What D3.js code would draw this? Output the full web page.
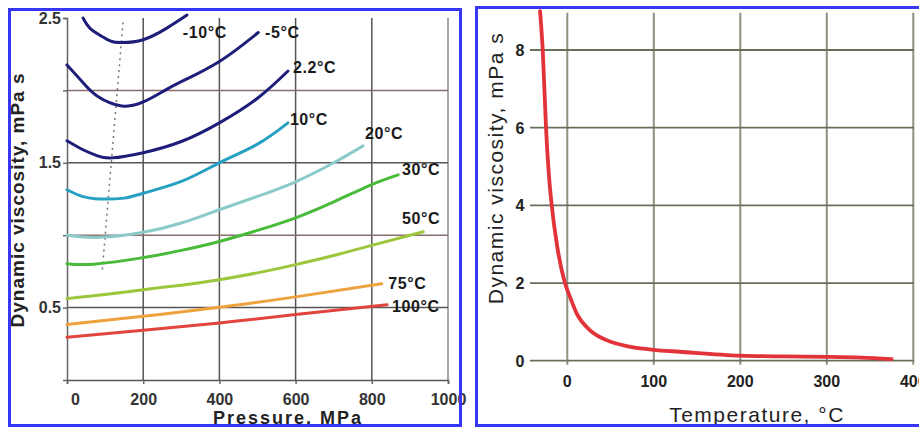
<!DOCTYPE html>
<html>
<head>
<meta charset="utf-8">
<script src="https://cdn.jsdelivr.net/npm/d3@7"></script>
<style>
  body { margin: 0; background: #fff; }
  svg { display: block; font-family: "Liberation Sans", Arial, sans-serif; }
  .tick text { font-weight: bold; fill: #333; }
</style>
</head>
<body>
<svg width="919" height="428"></svg>
<script>
// left panel: viscosity vs pressure, one curve per temperature
const pressureTicks = [0, 200, 400, 600, 800, 1000];
const viscTicksLeft = [0.5, 1, 1.5, 2, 2.5];

const isotherms = [
    { name: '-10°C', color: '#1d1d7a', p: [42, 60, 87, 115, 144, 200, 262, 315], v: [2.50, 2.43, 2.38, 2.34, 2.33, 2.35, 2.43, 2.52] },
    { name: '-5°C', color: '#1d1d7a', p: [0, 40, 80, 144, 200, 250, 300, 400, 502], v: [2.176, 2.06, 1.96, 1.893, 1.92, 1.99, 2.06, 2.2, 2.4] },
    { name: '2.2°C', color: '#1d1d7a', p: [0, 42, 80, 118, 200, 300, 400, 500, 580], v: [1.652, 1.59, 1.548, 1.534, 1.57, 1.647, 1.776, 1.946, 2.134] },
    { name: '10°C', color: '#27a0c4', p: [0, 40, 87, 150, 200, 300, 400, 500, 580], v: [1.314, 1.268, 1.25, 1.256, 1.29, 1.371, 1.5, 1.629, 1.776] },
    { name: '20°C', color: '#8ccaca', p: [0, 87, 200, 300, 400, 500, 600, 700, 777], v: [1.0, 0.985, 1.02, 1.084, 1.176, 1.268, 1.369, 1.5, 1.617] },
    { name: '30°C', color: '#48bb38', p: [0, 70, 200, 300, 400, 500, 600, 700, 800, 869], v: [0.803, 0.8, 0.845, 0.895, 0.957, 1.033, 1.12, 1.23, 1.35, 1.417] },
    { name: '50°C', color: '#9cc63c', p: [0, 100, 200, 300, 400, 500, 600, 700, 800, 935], v: [0.562, 0.59, 0.624, 0.655, 0.693, 0.74, 0.797, 0.86, 0.93, 1.024] },
    { name: '75°C', color: '#eea23e', p: [0, 200, 400, 600, 826], v: [0.383, 0.44, 0.502, 0.574, 0.665] },
    { name: '100°C', color: '#e0443c', p: [0, 200, 400, 600, 840], v: [0.295, 0.343, 0.394, 0.452, 0.52] }
];

// where each temperature label sits (pressure, viscosity at baseline)
const labelP = [304, 520, 593, 585, 782, 879, 879, 843, 853];
const labelV = [2.362, 2.362, 2.121, 1.762, 1.666, 1.417, 1.079, 0.631, 0.472];

// dotted line through the minima
const minimaP = [147, 92];
const minimaV = [2.47, 0.74];

// right panel: viscosity vs temperature at saturation
const tempTicks = [0, 100, 200, 300, 400];
const viscTicksRight = [0, 2, 4, 6, 8];
const satTemp = [-31.5, -28.4, -24.6, -20.8, -18, -11.6, -2.7, 3, 10.8, 26, 45.5, 72, 99, 130, 200, 250, 300, 340, 375];
const satVisc = [9.0, 8.0, 6.0, 4.65, 4.0, 2.93, 2.0, 1.65, 1.22, 0.79, 0.53, 0.36, 0.28, 0.23, 0.13, 0.11, 0.1, 0.08, 0.04];

const svg = d3.select('svg');
const blue = '#3636f4';

// ---------- left panel ----------
const xL = d3.scaleLinear().domain([0, 1000]).range([67, 448]);
const yL = d3.scaleLinear().domain([0, 2.5]).range([380, 18]);
const left = svg.append('g');

left.append('g')
    .selectAll('line')
    .data([200, 400, 600, 800, 1000])
    .enter().append('line')
    .attr('x1', d => xL(d)).attr('x2', d => xL(d))
    .attr('y1', yL(2.5)).attr('y2', yL(0))
    .attr('stroke', d => d === 1000 ? '#8a8a8a' : '#555')
    .attr('stroke-width', 1.5);

left.append('g')
    .selectAll('line')
    .data([0.5, 1, 1.5, 2])
    .enter().append('line')
    .attr('x1', xL(0)).attr('x2', xL(1000))
    .attr('y1', d => yL(d)).attr('y2', d => yL(d))
    .attr('stroke', d => d % 1 === 0 ? '#8a6e6e' : '#555')
    .attr('stroke-width', 1.5);

const axL = left.append('g')
    .attr('transform', `translate(0,${yL(0)})`)
    .call(d3.axisBottom(xL).tickValues(pressureTicks).tickSize(4).tickPadding(10).tickFormat(d3.format('d')));
const ayL = left.append('g')
    .attr('transform', `translate(${xL(0)},0)`)
    .call(d3.axisLeft(yL).tickValues(viscTicksLeft).tickSize(4).tickPadding(2)
        .tickFormat(d => d % 1 === 0 ? '' : d3.format('.1f')(d)));
[axL, ayL].forEach(a => {
    a.selectAll('path, line').attr('stroke', '#666').attr('stroke-width', 1.5);
    a.selectAll('text').style('font-size', '16px');
});
axL.select('path').attr('stroke', '#555');
axL.selectAll('text').filter(d => d === 0).attr('dx', 8);

left.append('path')
    .datum(d3.zip(minimaP, minimaV))
    .attr('fill', 'none')
    .attr('stroke', '#777')
    .attr('stroke-width', 1.5)
    .attr('stroke-dasharray', '2,4')
    .attr('d', d3.line().x(d => xL(d[0])).y(d => yL(d[1])));

const lineL = d3.line()
    .x(d => xL(d[0]))
    .y(d => yL(d[1]))
    .curve(d3.curveNatural);

left.append('g')
    .selectAll('path')
    .data(isotherms)
    .enter().append('path')
    .attr('fill', 'none')
    .attr('stroke', d => d.color)
    .attr('stroke-width', 3)
    .attr('stroke-linecap', 'round')
    .attr('d', d => lineL(d3.zip(d.p, d.v)));

left.append('g')
    .selectAll('text')
    .data(isotherms)
    .enter().append('text')
    .attr('x', (d, i) => xL(labelP[i]))
    .attr('y', (d, i) => yL(labelV[i]))
    .style('font-size', '16px')
    .style('font-weight', 'bold')
    .style('letter-spacing', '0.6px')
    .attr('fill', '#1a1a1a')
    .text(d => d.name);

left.append('text')
    .attr('transform', 'translate(24,200) rotate(-90)')
    .attr('text-anchor', 'middle')
    .style('font-size', '19px')
    .style('font-weight', 'bold')
    .style('letter-spacing', '1px')
    .attr('fill', '#222')
    .text('Dynamic viscosity, mPa s');

left.append('text')
    .attr('x', 288).attr('y', 424)
    .attr('text-anchor', 'middle')
    .style('font-size', '18px')
    .style('font-weight', 'bold')
    .style('letter-spacing', '2px')
    .attr('fill', '#222')
    .text('Pressure, MPa');

left.append('rect')
    .attr('x', 9.5).attr('y', 9.5)
    .attr('width', 451).attr('height', 416)
    .attr('fill', 'none')
    .attr('stroke', blue)
    .attr('stroke-width', 3);

// ---------- right panel ----------
const xR = d3.scaleLinear().domain([0, 400]).range([567.3, 913.3]);
const yR = d3.scaleLinear().domain([0, 8]).range([360.7, 50]);
const right = svg.append('g');

right.append('g')
    .selectAll('line')
    .data(tempTicks)
    .enter().append('line')
    .attr('x1', d => xR(d)).attr('x2', d => xR(d))
    .attr('y1', 12.7).attr('y2', yR(0) + 4)
    .attr('stroke', '#8c927f')
    .attr('stroke-width', 2);

right.append('g')
    .selectAll('line')
    .data(viscTicksRight)
    .enter().append('line')
    .attr('x1', 530).attr('x2', 914)
    .attr('y1', d => yR(d)).attr('y2', d => yR(d))
    .attr('stroke', '#68705c')
    .attr('stroke-width', 1.8);

right.append('g')
    .selectAll('text')
    .data(tempTicks)
    .enter().append('text')
    .attr('x', d => xR(d))
    .attr('y', yR(0) + 26)
    .attr('text-anchor', 'middle')
    .style('font-size', '16px')
    .style('font-weight', 'bold')
    .attr('fill', '#222')
    .text(d => d);

right.append('g')
    .selectAll('text')
    .data(viscTicksRight)
    .enter().append('text')
    .attr('x', 520)
    .attr('y', d => yR(d) + 6)
    .attr('text-anchor', 'middle')
    .style('font-size', '16px')
    .style('font-weight', 'bold')
    .attr('fill', '#222')
    .text(d => d);

right.append('path')
    .datum(d3.zip(satTemp, satVisc))
    .attr('fill', 'none')
    .attr('stroke', '#e2323a')
    .attr('stroke-width', 3.8)
    .attr('stroke-linecap', 'round')
    .attr('d', d3.line().x(d => xR(d[0])).y(d => yR(d[1])).curve(d3.curveMonotoneX));

right.append('text')
    .attr('transform', 'translate(503,168) rotate(-90)')
    .attr('text-anchor', 'middle')
    .style('font-size', '21px')
    .style('letter-spacing', '1.5px')
    .attr('fill', '#222')
    .text('Dynamic viscosity, mPa s');

right.append('text')
    .attr('x', 757).attr('y', 422)
    .attr('text-anchor', 'middle')
    .style('font-size', '21px')
    .style('letter-spacing', '1.5px')
    .attr('fill', '#222')
    .text('Temperature, °C');

right.append('rect')
    .attr('x', 476.5).attr('y', 7.5)
    .attr('width', 460).attr('height', 418)
    .attr('fill', 'none')
    .attr('stroke', blue)
    .attr('stroke-width', 3);
</script>
</body>
</html>
